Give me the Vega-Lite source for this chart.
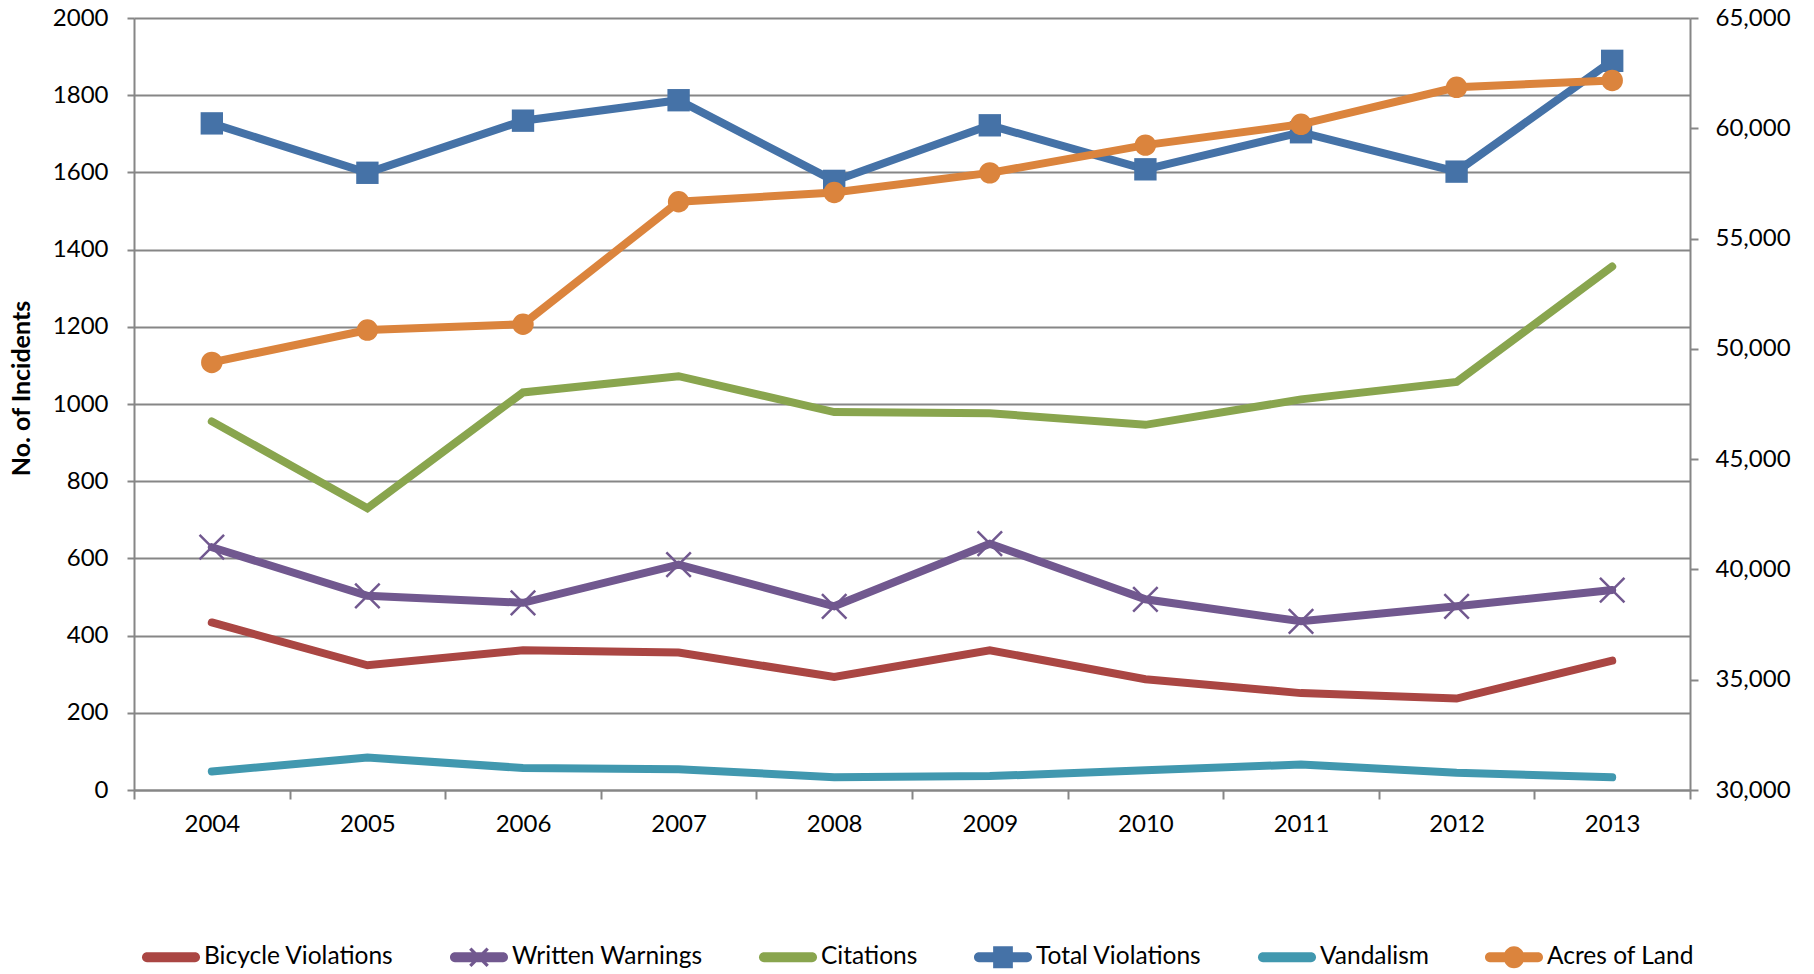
{
  "$schema": "https://vega.github.io/schema/vega-lite/v6.json",
  "width": 1556,
  "height": 772,
  "autosize": {"type": "none"},
  "padding": {"left": 134, "top": 18, "right": 124, "bottom": 184},
  "background": "white",
  "data": {"values": [
    {"year": "2004", "series": "Bicycle Violations", "value": 434},
    {"year": "2005", "series": "Bicycle Violations", "value": 323},
    {"year": "2006", "series": "Bicycle Violations", "value": 362},
    {"year": "2007", "series": "Bicycle Violations", "value": 356},
    {"year": "2008", "series": "Bicycle Violations", "value": 293},
    {"year": "2009", "series": "Bicycle Violations", "value": 362},
    {"year": "2010", "series": "Bicycle Violations", "value": 287},
    {"year": "2011", "series": "Bicycle Violations", "value": 251},
    {"year": "2012", "series": "Bicycle Violations", "value": 237},
    {"year": "2013", "series": "Bicycle Violations", "value": 335},
    {"year": "2004", "series": "Written Warnings", "value": 629},
    {"year": "2005", "series": "Written Warnings", "value": 503},
    {"year": "2006", "series": "Written Warnings", "value": 485},
    {"year": "2007", "series": "Written Warnings", "value": 584},
    {"year": "2008", "series": "Written Warnings", "value": 476},
    {"year": "2009", "series": "Written Warnings", "value": 638},
    {"year": "2010", "series": "Written Warnings", "value": 494},
    {"year": "2011", "series": "Written Warnings", "value": 437},
    {"year": "2012", "series": "Written Warnings", "value": 476},
    {"year": "2013", "series": "Written Warnings", "value": 518},
    {"year": "2004", "series": "Citations", "value": 955},
    {"year": "2005", "series": "Citations", "value": 730},
    {"year": "2006", "series": "Citations", "value": 1030},
    {"year": "2007", "series": "Citations", "value": 1072},
    {"year": "2008", "series": "Citations", "value": 979},
    {"year": "2009", "series": "Citations", "value": 976},
    {"year": "2010", "series": "Citations", "value": 946},
    {"year": "2011", "series": "Citations", "value": 1012},
    {"year": "2012", "series": "Citations", "value": 1057},
    {"year": "2013", "series": "Citations", "value": 1356},
    {"year": "2004", "series": "Total Violations", "value": 1727},
    {"year": "2005", "series": "Total Violations", "value": 1599},
    {"year": "2006", "series": "Total Violations", "value": 1734},
    {"year": "2007", "series": "Total Violations", "value": 1787},
    {"year": "2008", "series": "Total Violations", "value": 1578},
    {"year": "2009", "series": "Total Violations", "value": 1722},
    {"year": "2010", "series": "Total Violations", "value": 1608},
    {"year": "2011", "series": "Total Violations", "value": 1704},
    {"year": "2012", "series": "Total Violations", "value": 1602},
    {"year": "2013", "series": "Total Violations", "value": 1889},
    {"year": "2004", "series": "Vandalism", "value": 48},
    {"year": "2005", "series": "Vandalism", "value": 84},
    {"year": "2006", "series": "Vandalism", "value": 57},
    {"year": "2007", "series": "Vandalism", "value": 54},
    {"year": "2008", "series": "Vandalism", "value": 33},
    {"year": "2009", "series": "Vandalism", "value": 36},
    {"year": "2010", "series": "Vandalism", "value": 51},
    {"year": "2011", "series": "Vandalism", "value": 66},
    {"year": "2012", "series": "Vandalism", "value": 45},
    {"year": "2013", "series": "Vandalism", "value": 33},
    {"year": "2004", "series": "Acres of Land", "value": 49386},
    {"year": "2005", "series": "Acres of Land", "value": 50853},
    {"year": "2006", "series": "Acres of Land", "value": 51115},
    {"year": "2007", "series": "Acres of Land", "value": 56668},
    {"year": "2008", "series": "Acres of Land", "value": 57088},
    {"year": "2009", "series": "Acres of Land", "value": 57979},
    {"year": "2010", "series": "Acres of Land", "value": 59237},
    {"year": "2011", "series": "Acres of Land", "value": 60180},
    {"year": "2012", "series": "Acres of Land", "value": 61856},
    {"year": "2013", "series": "Acres of Land", "value": 62170}
  ]},
  "encoding": {
    "x": {
      "field": "year", "type": "ordinal",
      "scale": {"type": "band", "paddingInner": 0, "paddingOuter": 0},
      "bandPosition": 0.5,
      "axis": {"title": null, "labelAngle": 0, "tickBand": "extent", "tickSize": 9, "labelPadding": 13, "grid": false}
    }
  },
  "layer": [
    {
      "transform": [{"filter": "datum.series !== 'Acres of Land'"}],
      "encoding": {
        "y": {
          "field": "value", "type": "quantitative",
          "scale": {"domain": [0, 2000], "nice": false, "zero": true},
          "axis": {
            "title": "No. of Incidents",
            "values": [0, 200, 400, 600, 800, 1000, 1200, 1400, 1600, 1800, 2000],
            "format": "d",
            "grid": true, "tickSize": 7, "labelPadding": 19,
            "titleFontSize": 25, "titleFontWeight": "bold", "titleColor": "#000",
            "titleAngle": -90, "titleX": -113, "titleY": 370, "titleAlign": "center", "titleBaseline": "middle"
          }
        }
      },
      "layer": [
        {
          "mark": {"type": "line", "strokeWidth": 8, "strokeCap": "round"},
          "encoding": {
            "color": {
              "field": "series", "type": "nominal",
              "scale": {
                "domain": ["Bicycle Violations", "Written Warnings", "Citations", "Total Violations", "Vandalism", "Acres of Land"],
                "range": ["#AA4643", "#71588F", "#89A54E", "#4572A7", "#4198AF", "#DB843D"]
              },
              "legend": {
                "title": null, "orient": "none", "legendX": 8, "legendY": 910,
                "direction": "horizontal", "columns": 6, "columnPadding": 56,
                "symbolSize": 3364, "labelFontSize": 24.5, "labelColor": "#000", "labelOffset": 4, "labelLimit": 400,
                "symbolType": "M-0.83,-0.17H0.83A0.17,0.17 0 0,1 0.83,0.17H-0.83A0.17,0.17 0 0,1 -0.83,-0.17Z",
                "encode": {
                  "symbols": {
                    "update": {
                      "shape": {"signal": "datum.value === 'Total Violations' ? 'M-0.83,-0.17H0.83A0.17,0.17 0 0,1 0.83,0.17H-0.83A0.17,0.17 0 0,1 -0.83,-0.17Z M-0.34,-0.38H0.34V0.38H-0.34Z' : datum.value === 'Acres of Land' ? 'M-0.83,-0.17H0.83A0.17,0.17 0 0,1 0.83,0.17H-0.83A0.17,0.17 0 0,1 -0.83,-0.17Z M-0.36,0A0.36,0.38 0 1,1 0.36,0A0.36,0.38 0 1,1 -0.36,0Z' : datum.value === 'Written Warnings' ? 'M-0.83,-0.17H0.83A0.17,0.17 0 0,1 0.83,0.17H-0.83A0.17,0.17 0 0,1 -0.83,-0.17Z M-0.26,-0.34L0.34,0.26L0.26,0.34L-0.34,-0.26Z M0.34,-0.26L-0.26,0.34L-0.34,0.26L0.26,-0.34Z' : 'M-0.83,-0.17H0.83A0.17,0.17 0 0,1 0.83,0.17H-0.83A0.17,0.17 0 0,1 -0.83,-0.17Z'"},
                      "fill": {"scale": "color", "field": "value"},
                      "stroke": {"value": "transparent"},
                      "strokeWidth": {"value": 0},
                      "opacity": {"value": 1}
                    }
                  }
                }
              }
            }
          }
        },
        {
          "transform": [{"filter": "datum.series === 'Written Warnings'"}],
          "mark": {"type": "point", "shape": "M-1,-1L1,1M1,-1L-1,1", "filled": false, "size": 600, "strokeWidth": 2.5, "color": "#71588F", "opacity": 1}
        },
        {
          "transform": [{"filter": "datum.series === 'Total Violations'"}],
          "mark": {"type": "point", "shape": "square", "filled": true, "size": 500, "color": "#4572A7", "opacity": 1}
        }
      ]
    },
    {
      "transform": [{"filter": "datum.series === 'Acres of Land'"}],
      "encoding": {
        "y": {
          "field": "value", "type": "quantitative",
          "scale": {"domain": [30000, 65000], "nice": false, "zero": false},
          "axis": {
            "orient": "right", "title": null,
            "values": [30000, 35000, 40000, 45000, 50000, 55000, 60000, 65000],
            "format": ",d", "grid": false, "tickSize": 8, "labelPadding": 17
          }
        }
      },
      "layer": [
        {
          "mark": {"type": "line", "strokeWidth": 8, "strokeCap": "round"},
          "encoding": {"color": {"field": "series", "type": "nominal"}}
        },
        {
          "mark": {"type": "point", "shape": "circle", "filled": true, "size": 460, "color": "#DB843D", "opacity": 1}
        }
      ]
    }
  ],
  "resolve": {"scale": {"y": "independent"}},
  "config": {
    "view": {"stroke": null},
    "font": "Lato",
    "axis": {
      "labelFont": "Lato", "labelFontSize": 24, "labelColor": "#000",
      "domainColor": "#868686", "domainWidth": 2,
      "tickColor": "#868686", "tickWidth": 2,
      "gridColor": "#868686", "gridWidth": 2,
      "titleFont": "Lato"
    },
    "legend": {"labelFont": "Lato"}
  }
}
